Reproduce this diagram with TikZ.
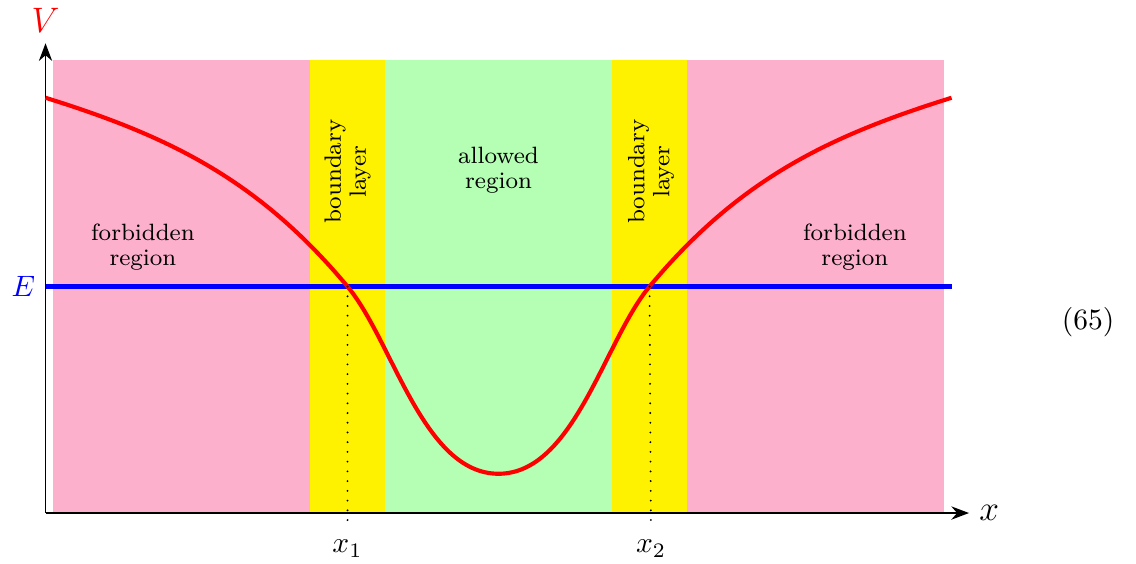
\documentclass[tikz,border=0pt]{standalone}
\usetikzlibrary{arrows.meta}
\definecolor{forbpink}{RGB}{253,176,204}
\definecolor{allowgreen}{RGB}{180,255,180}
\tikzset{
  ax/.style   = {-{Stealth[length=6pt,width=4.5pt]}, semithick, black},
  pot/.style  = {red, line width=1.4pt, line join=round},
  lvl/.style  = {blue, line width=1.4pt},
  dots/.style = {line width=0.7pt, line cap=round, dash pattern=on 0pt off 3.3pt},
  lbl/.style  = {font=\fontsize{8}{8.5}\selectfont, align=center, text=black}
}

\begin{document}
\begin{tikzpicture}[x=0.9cm, y=0.9cm]
  \useasboundingbox (-6.603, -0.662) rectangle (8.443, 6.795);

  %% Regions
  \fill[forbpink]   (-5.9, 0) rectangle (-2.5, 6);
  \fill[yellow]     (-2.5, 0) rectangle (-1.5, 6);
  \fill[allowgreen] (-1.5, 0) rectangle ( 1.5, 6);
  \fill[yellow]     ( 1.5, 0) rectangle ( 2.5, 6);
  \fill[forbpink]   ( 2.5, 0) rectangle ( 5.9, 6);

  %% Region labels
  \node[lbl] (forbL) at (-4.71, 3.52) {forbidden\\region};
  \node[lbl] (forbR) at ( 4.72, 3.52) {forbidden\\region};
  \node[lbl] (allow) at ( 0.00, 4.54) {allowed\\region};
  \node[lbl, rotate=90] (bndL) at (-2.00, 4.52) {boundary\\layer};
  \node[lbl, rotate=90] (bndR) at ( 2.02, 4.52) {boundary\\layer};

  %% Axes
  \coordinate (O) at (-6, 0);
  \node[text=red, font=\large] (vlab) at (-6.00, 6.52) {$V$};
  \node[font=\large]           (xlab) at ( 6.50, 0.00) {$x$};
  \draw[ax] (O) -- (vlab);
  \draw[ax] (O) -- (xlab);

  %% Energy level
  \node[left, text=blue] (elab) at (-6, 3) {$E$};
  \coordinate (Eend) at (6, 3);
  \draw[lvl] (elab.east) -- (Eend);

  %% Turning points and bottom of the well
  \coordinate (X1)   at (-2, 3);
  \coordinate (X2)   at ( 2, 3);
  \coordinate (Vmin) at ( 0, 0.52);
  \coordinate (VL)   at (-6, 5.5);
  \coordinate (VR)   at ( 6, 5.5);

  %% Potential
  \draw[pot] (VL) .. controls (-4.4, 5.0) and (-3.2, 4.44) .. (X1)
                  .. controls (-1.4, 2.28) and (-1.0, 0.52) .. (Vmin)
                  .. controls ( 1.0, 0.52) and ( 1.4, 2.28) .. (X2)
                  .. controls ( 3.2, 4.44) and ( 4.4, 5.0) .. (VR);

  %% Dotted drops
  \node (lx1) at (-2.00, -0.47) {$x_1$};
  \node (lx2) at ( 2.02, -0.47) {$x_2$};
  \draw[dots] (X1) -- (lx1);
  \draw[dots] (X2) -- (lx2);

  %% Equation number
  \node (eqno) at (7.81, 2.53) {(65)};
\end{tikzpicture}
\end{document}
